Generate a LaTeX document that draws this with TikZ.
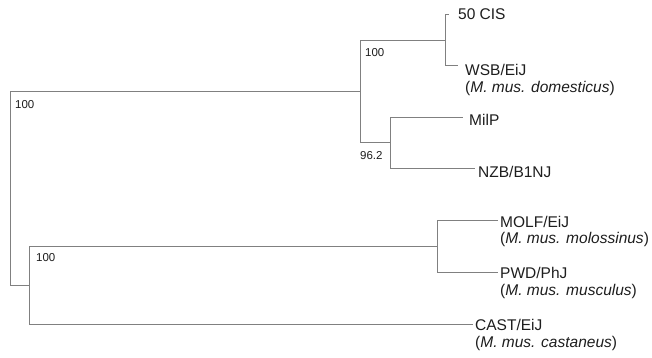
\documentclass[tikz,border=0pt]{standalone}
\usepackage{fontspec}
\setmainfont{Liberation Sans}
\definecolor{branch}{HTML}{808080}
\definecolor{txt}{HTML}{1E1E1E}
\begin{document}
\begin{tikzpicture}[x=1pt,y=-1pt,
  edge/.style={draw=branch,line width=0.9pt},
  leaf/.style={anchor=base west,inner sep=0pt,text=txt,font=\fontsize{15.5}{17}\selectfont},
  support/.style={anchor=west,inner sep=0pt,text=txt,font=\fontsize{11.5}{13}\selectfont}]
\useasboundingbox[fill=white] (0,0) rectangle (652,358);
% internal nodes
\coordinate (r) at (10,188);
\coordinate (a) at (360,91);
\coordinate (b) at (445,40);
\coordinate (c) at (390,142);
\coordinate (d) at (29,285);
\coordinate (e) at (437,246);
% tips
\coordinate (pcis) at (449,14);
\coordinate (pwsb) at (458,65);
\coordinate (pmilp) at (463,117);
\coordinate (pnzb) at (475,168);
\coordinate (pmolf) at (498,220);
\coordinate (ppwd) at (498,272);
\coordinate (pcast) at (473,324);
% branches
\draw[edge] (r) |- (a);
\draw[edge] (r) |- (d);
\draw[edge] (a) |- (b);
\draw[edge] (a) |- (c);
\draw[edge] (b) |- (pcis);
\draw[edge] (b) |- (pwsb);
\draw[edge] (c) |- (pmilp);
\draw[edge] (c) |- (pnzb);
\draw[edge] (d) |- (e);
\draw[edge] (d) |- (pcast);
\draw[edge] (e) |- (pmolf);
\draw[edge] (e) |- (ppwd);
% leaf labels
\node[leaf] (tcis) at (458,20) {50 CIS};
\node[leaf] (twsb) at (465,75.5) {WSB/EiJ};
\node[leaf] (twsb2) at (465,92.5) {(\textit{M. mus. domesticus})};
\node[leaf] (tmilp) at (469,125.5) {MilP};
\node[leaf] (tnzb) at (478,177.5) {NZB/B1NJ};
\node[leaf] (tmolf) at (500,227.5) {MOLF/EiJ};
\node[leaf] (tmolf2) at (500,243.5) {(\textit{M. mus. molossinus})};
\node[leaf] (tpwd) at (500,278.5) {PWD/PhJ};
\node[leaf] (tpwd2) at (500,295.5) {(\textit{M. mus. musculus})};
\node[leaf] (tcast) at (475,330.5) {CAST/EiJ};
\node[leaf] (tcast2) at (475,347.5) {(\textit{M. mus. castaneus})};
% support values
\node[support] (sr) at (15,105) {100};
\node[support] (sa) at (365,53) {100};
\node[support] (sc) at (360,156) {96.2};
\node[support] (sd) at (36,258) {100};
\end{tikzpicture}
\end{document}
